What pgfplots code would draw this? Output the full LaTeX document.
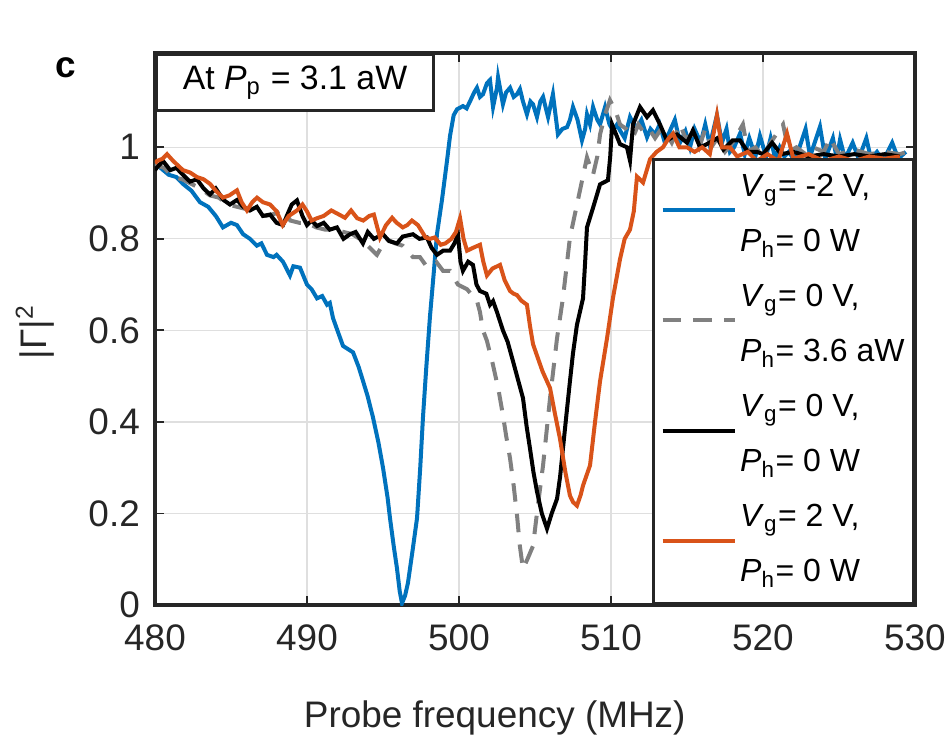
\documentclass[border=0pt]{standalone}
\usepackage{fontspec}
\setmainfont{Liberation Sans}
\usepackage{pgfplots}
\pgfplotsset{compat=1.18}
\definecolor{mblue}{RGB}{0,114,189}
\definecolor{morange}{RGB}{217,83,25}
\definecolor{mgray}{RGB}{128,128,128}
\definecolor{axiscol}{RGB}{38,38,38}
\begin{document}
\begin{tikzpicture}
\path[use as bounding box] (-50.375pt,-42.9pt) rectangle (257.075pt,196.625pt);
\begin{axis}[
  at={(0pt,0pt)}, anchor=south west,
  scale only axis, width=247pt, height=179.4pt,
  xmin=480, xmax=530, ymin=0, ymax=1.206,
  xtick={480,490,500,510,520,530},
  ytick={0,0.2,0.4,0.6,0.8,1},
  grid=major,
  major grid style={draw=gray!25, line width=0.4pt},
  axis line style={draw=axiscol, line width=1pt},
  every tick/.style={draw=axiscol, line width=0.6pt},
  major tick length=3pt,
  tick align=inside,
  /pgf/number format/assume math mode=true,
  tick label style={font=\fontsize{12}{14}\selectfont, text=axiscol},
  xticklabel style={yshift=-3pt},
  yticklabel style={xshift=-1.4pt},
  xlabel={Probe frequency (MHz)},
  ylabel={|Γ|\textsuperscript{2}},
  every axis x label/.style={at={(axis description cs:0.447,-0.2228)}, anchor=base, font=\fontsize{12}{14}\selectfont, text=axiscol},
  every axis y label/.style={at={(axis description cs:-0.158,0.495)}, rotate=90, anchor=center, font=\fontsize{12}{14}\selectfont, text=axiscol},
  legend style={at={(rel axis cs:1,0)}, anchor=south east, draw=axiscol, line width=1pt,
    fill=white, font=\fontsize{10.4}{13}\selectfont, inner xsep=2.9pt, inner ysep=4pt,
    column sep=1.8pt, row sep=6.9pt, nodes={inner sep=0pt, text height=8pt, text depth=3pt, text=black}},
  legend cell align=left,
  legend image code/.code={\path[draw=none,fill=none] (0pt,0pt) rectangle (23.4pt,0pt); \draw[#1, line width=1.3pt, overlay] (0pt,-7pt) -- (23.4pt,-7pt);},
]
\addplot[mblue, line width=1.3pt] coordinates {
(480.0,0.965)(480.33,0.956)(480.9,0.94)(481.4,0.935)(481.84,0.92)(482.4,0.905)(482.96,0.88)(483.5,0.87)(484.0,0.85)(484.47,0.825)(485.0,0.835)(485.39,0.83)(485.8,0.81)(486.25,0.80)(486.7,0.785)(487.0,0.79)(487.37,0.765)(487.8,0.76)(488.0,0.765)(488.42,0.75)(488.88,0.72)(489.1,0.74)(489.54,0.737)(490.0,0.70)(490.3,0.69)(490.66,0.67)(491.0,0.675)(491.32,0.656)(491.5,0.66)(491.71,0.627)(492.0,0.60)(492.37,0.566)(493.03,0.552)(493.4,0.52)(493.68,0.49)(494.0,0.455)(494.34,0.41)(494.7,0.355)(495.0,0.30)(495.3,0.235)(495.46,0.19)(495.7,0.13)(495.92,0.08)(496.1,0.03)(496.25,0.004)(496.45,0.02)(496.64,0.048)(496.95,0.12)(497.24,0.19)(497.45,0.30)(497.63,0.41)(497.85,0.52)(498.09,0.63)(498.35,0.73)(498.55,0.81)(498.88,0.885)(499.21,0.97)(499.41,1.025)(499.65,1.07)(499.87,1.083)(500.26,1.09)(500.5,1.085)(500.72,1.10)(501.0,1.12)(501.18,1.13)(501.38,1.11)(501.58,1.116)(501.84,1.14)(502.04,1.147)(502.24,1.088)(502.5,1.13)(502.57,1.153)(502.89,1.094)(503.1,1.12)(503.36,1.13)(503.6,1.11)(503.82,1.116)(504.01,1.127)(504.21,1.10)(504.47,1.072)(504.7,1.10)(504.87,1.094)(505.13,1.066)(505.35,1.10)(505.53,1.11)(505.86,1.066)(506.18,1.116)(506.51,1.028)(506.8,1.04)(507.11,1.044)(507.3,1.06)(507.5,1.088)(507.8,1.06)(508.09,1.015)(508.3,1.04)(508.42,1.072)(508.62,1.05)(508.82,1.088)(509.1,1.06)(509.28,1.05)(509.61,1.088)(509.9,1.05)(510.13,1.037)(510.4,1.05)(510.59,1.037)(510.9,1.02)(511.25,1.066)(511.5,1.05)(511.71,1.044)(512.0,1.06)(512.37,1.022)(512.6,1.04)(512.9,1.028)(513.2,1.05)(513.5,1.015)(513.8,1.03)(514.2,1.06)(514.54,1.01)(514.9,1.035)(515.2,1.0)(515.5,1.04)(515.9,1.01)(516.2,1.05)(516.5,1.005)(516.97,1.07)(517.3,1.01)(517.6,1.04)(517.83,0.99)(518.1,1.0)(518.49,1.03)(518.8,0.985)(519.1,1.02)(519.5,0.98)(519.8,1.025)(520.2,0.98)(520.5,1.02)(520.8,0.975)(521.1,1.0)(521.4,0.98)(521.7,0.99)(522.0,0.975)(522.3,0.99)(522.8,1.04)(523.1,0.98)(523.75,1.045)(524.1,0.975)(524.6,1.02)(524.85,0.975)(525.07,1.017)(525.4,0.975)(525.9,1.01)(526.3,0.975)(526.8,1.02)(527.1,0.975)(527.5,0.99)(527.9,0.97)(528.5,1.01)(528.9,0.975)(529.4,0.99)
};
\addlegendentry{\textit{V}\textsubscript{g}= -2 V,}
\addlegendimage{empty legend}
\addlegendentry{\textit{P}\textsubscript{h}= 0 W}
\addplot[mgray, line width=1.3pt, dash pattern=on 6pt off 4pt] coordinates {
(480.0,0.97)(480.13,0.96)(480.6,0.955)(481.2,0.935)(481.8,0.93)(482.4,0.92)(483.0,0.91)(483.6,0.895)(484.2,0.89)(484.8,0.875)(485.4,0.87)(486.0,0.865)(486.71,0.853)(487.3,0.85)(487.9,0.855)(488.42,0.868)(488.9,0.84)(489.5,0.835)(490.0,0.835)(490.6,0.825)(491.2,0.82)(491.8,0.82)(492.4,0.815)(493.0,0.81)(493.68,0.795)(494.14,0.78)(494.6,0.765)(495.2,0.80)(495.8,0.79)(496.3,0.785)(496.97,0.76)(497.43,0.76)(497.8,0.743)(498.29,0.743)(498.5,0.75)(498.95,0.73)(499.41,0.73)(499.93,0.70)(500.53,0.69)(500.9,0.675)(501.18,0.665)(501.38,0.64)(501.58,0.60)(501.84,0.577)(502.24,0.524)(502.6,0.47)(502.89,0.415)(503.1,0.37)(503.36,0.32)(503.6,0.26)(503.82,0.195)(504.0,0.13)(504.21,0.079)(504.5,0.10)(504.87,0.129)(505.2,0.22)(505.53,0.305)(505.99,0.452)(506.45,0.583)(506.84,0.671)(507.30,0.803)(507.96,0.906)(508.42,0.978)(508.82,0.94)(509.1,0.98)(509.28,1.028)(509.6,1.07)(509.93,1.103)(510.3,1.08)(510.59,1.05)(511.0,1.04)(511.45,1.022)(511.8,1.05)(512.2,1.03)(512.57,1.037)(512.9,1.02)(513.3,1.04)(513.68,1.028)(514.0,1.01)(514.54,1.05)(514.9,1.02)(515.39,1.028)(515.8,1.0)(516.2,1.04)(516.6,1.0)(517.0,1.02)(517.5,0.99)(518.0,1.01)(518.68,1.05)(519.0,0.99)(519.5,1.0)(520.0,0.98)(520.5,1.01)(521.32,1.05)(521.7,0.99)(522.2,1.0)(522.8,0.985)(523.3,1.0)(524.0,0.99)(524.41,1.02)(525.0,0.985)(526.0,0.995)(527.0,0.985)(528.0,0.99)(529.0,0.985)(529.5,0.99)
};
\addlegendentry{\textit{V}\textsubscript{g}= 0 V,}
\addlegendimage{empty legend}
\addlegendentry{\textit{P}\textsubscript{h}= 3.6 aW}
\addplot[black, line width=1.3pt] coordinates {
(480.0,0.95)(480.13,0.956)(480.53,0.97)(481.0,0.95)(481.4,0.955)(481.84,0.94)(482.3,0.925)(482.76,0.93)(483.2,0.91)(483.62,0.897)(484.0,0.91)(484.5,0.885)(484.93,0.875)(485.4,0.885)(485.8,0.87)(486.25,0.862)(486.7,0.87)(487.1,0.85)(487.57,0.853)(488.0,0.835)(488.42,0.83)(488.8,0.86)(489.0,0.875)(489.34,0.884)(489.7,0.85)(490.0,0.83)(490.3,0.84)(490.66,0.828)(491.1,0.835)(491.5,0.82)(491.97,0.825)(492.4,0.80)(492.83,0.81)(493.2,0.815)(493.68,0.79)(494.0,0.815)(494.4,0.80)(495.0,0.81)(495.4,0.795)(495.92,0.79)(496.3,0.805)(496.97,0.81)(497.4,0.80)(497.89,0.803)(498.2,0.78)(498.55,0.765)(498.95,0.774)(499.41,0.774)(499.7,0.79)(499.93,0.81)(500.1,0.75)(500.26,0.73)(500.6,0.75)(500.92,0.743)(501.15,0.70)(501.38,0.686)(501.8,0.68)(502.04,0.656)(502.24,0.664)(502.5,0.64)(502.89,0.60)(503.2,0.575)(503.55,0.533)(503.9,0.49)(504.21,0.452)(504.45,0.39)(504.67,0.342)(504.9,0.29)(505.13,0.248)(505.45,0.20)(505.79,0.167)(506.1,0.20)(506.45,0.232)(506.65,0.28)(506.84,0.342)(507.05,0.41)(507.3,0.489)(507.5,0.55)(507.76,0.612)(508.16,0.67)(508.3,0.75)(508.42,0.825)(508.82,0.868)(509.28,0.919)(509.8,0.928)(509.95,0.98)(510.07,1.05)(510.59,1.007)(511.05,1.0)(511.25,0.971)(511.45,1.05)(511.91,1.088)(512.37,1.066)(512.76,1.081)(513.22,1.05)(513.68,1.015)(514.34,1.028)(515.0,1.01)(515.39,1.037)(515.86,1.0)(516.32,1.007)(517.0,1.02)(517.4,0.995)(518.0,1.015)(518.49,1.015)(519.0,0.99)(519.61,0.99)(520.0,0.985)(520.6,1.01)(521.2,0.985)(522.0,0.99)(523.0,0.98)(524.0,0.985)(525.0,0.98)(526.0,0.985)(527.0,0.98)(528.0,0.985)(529.0,0.98)
};
\addlegendentry{\textit{V}\textsubscript{g}= 0 V,}
\addlegendimage{empty legend}
\addlegendentry{\textit{P}\textsubscript{h}= 0 W}
\addplot[morange, line width=1.3pt] coordinates {
(480.0,0.965)(480.13,0.97)(480.5,0.975)(480.79,0.985)(481.2,0.97)(481.84,0.95)(482.3,0.945)(482.76,0.935)(483.2,0.93)(483.62,0.92)(484.0,0.905)(484.47,0.89)(484.9,0.895)(485.39,0.906)(485.7,0.88)(486.05,0.862)(486.4,0.88)(486.71,0.89)(487.1,0.88)(487.57,0.875)(488.0,0.86)(488.4,0.83)(488.8,0.85)(489.34,0.862)(489.7,0.875)(490.0,0.86)(490.3,0.84)(490.66,0.845)(491.1,0.85)(491.6,0.862)(492.0,0.855)(492.5,0.846)(492.9,0.862)(493.3,0.845)(493.7,0.84)(494.1,0.85)(494.4,0.853)(494.8,0.803)(495.2,0.83)(495.6,0.846)(495.9,0.835)(496.3,0.825)(496.6,0.83)(496.9,0.84)(497.3,0.83)(497.8,0.803)(498.1,0.80)(498.4,0.803)(498.8,0.787)(499.1,0.79)(499.5,0.80)(499.8,0.815)(500.07,0.845)(500.3,0.80)(500.53,0.774)(500.9,0.78)(501.38,0.787)(501.6,0.75)(501.84,0.72)(502.2,0.735)(502.7,0.743)(503.0,0.71)(503.36,0.686)(503.6,0.68)(503.82,0.677)(504.1,0.665)(504.47,0.656)(504.67,0.61)(504.87,0.57)(505.13,0.545)(505.5,0.51)(505.99,0.474)(506.3,0.42)(506.64,0.364)(507.0,0.29)(507.3,0.239)(507.5,0.225)(507.76,0.217)(508.0,0.24)(508.16,0.261)(508.62,0.305)(508.95,0.40)(509.28,0.489)(509.74,0.583)(510.13,0.671)(510.59,0.755)(510.9,0.80)(511.25,0.82)(511.5,0.86)(511.71,0.936)(512.11,0.923)(512.57,0.974)(513.0,0.99)(513.42,1.0)(513.8,1.02)(514.08,1.03)(514.5,1.0)(515.0,1.0)(515.5,0.99)(516.0,1.0)(516.5,0.985)(516.97,1.07)(517.3,1.0)(517.83,1.0)(518.3,0.98)(519.0,0.99)(519.6,0.97)(520.3,0.985)(521.0,0.97)(521.58,1.03)(522.0,0.975)(523.0,0.985)(524.0,0.97)(525.0,0.98)(526.0,0.97)(527.0,0.98)(528.0,0.975)(529.0,0.98)
};
\addlegendentry{\textit{V}\textsubscript{g}= 2 V,}
\addlegendimage{empty legend}
\addlegendentry{\textit{P}\textsubscript{h}= 0 W}
\node[draw=axiscol, line width=1pt, fill=white, anchor=north west, minimum width=90pt, minimum height=18.2pt, inner sep=0pt, font=\fontsize{11}{13}\selectfont, text=black] at (rel axis cs:0,1) {At \textit{P}\textsubscript{p} = 3.1 aW};
\end{axis}
\node[font=\bfseries\fontsize{12}{14}\selectfont, anchor=center, text=black] at (-29.09pt,174.5pt) {c};
\end{tikzpicture}
\end{document}
